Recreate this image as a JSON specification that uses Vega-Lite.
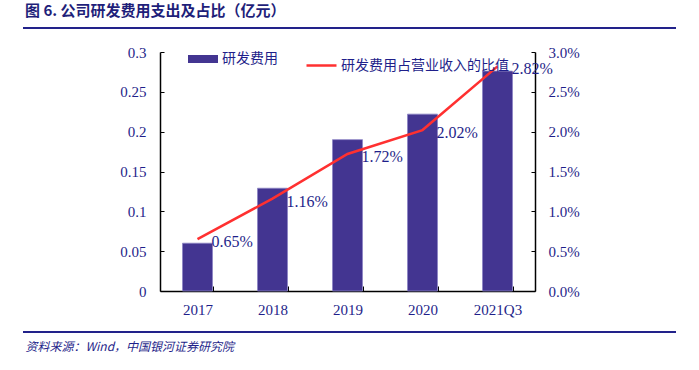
{
  "$schema": "https://vega.github.io/schema/vega-lite/v6.json",
  "width": 375,
  "height": 239,
  "autosize": {"type": "none"},
  "padding": {"left": 160, "top": 52, "right": 164, "bottom": 79},
  "background": "white",
  "config": {"view": {"stroke": null}, "font": "Liberation Serif"},
  "title": {
    "text": "图 6. 公司研发费用支出及占比（亿元）",
    "anchor": "start",
    "frame": "group",
    "font": "Noto Sans CJK SC",
    "fontSize": 15,
    "fontWeight": "bold",
    "color": "#1f1f7a",
    "dx": -135,
    "offset": 8
  },
  "data": {
    "values": [
      {"year": "2017", "rd": 0.060, "ratio": 0.0065},
      {"year": "2018", "rd": 0.129, "ratio": 0.0116},
      {"year": "2019", "rd": 0.190, "ratio": 0.0172},
      {"year": "2020", "rd": 0.222, "ratio": 0.0202},
      {"year": "2021Q3", "rd": 0.276, "ratio": 0.0282}
    ]
  },
  "layer": [
    {
      "mark": {"type": "bar", "stroke": "#8c84c4", "strokeWidth": 0.8},
      "encoding": {
        "x": {
          "field": "year", "type": "nominal", "sort": null,
          "scale": {"paddingInner": 0.6, "paddingOuter": 0.3},
          "axis": {
            "title": "资料来源：Wind，中国银河证券研究院",
            "titleFont": "Noto Sans CJK SC",
            "titleFontStyle": "italic",
            "titleFontWeight": "normal",
            "titleFontSize": 12,
            "titleColor": "#1f1f8a",
            "titleAnchor": "start",
            "titleAlign": "left",
            "titleBaseline": "middle",
            "titleX": -135,
            "titleY": 55,
            "labelAngle": 0,
            "labelFont": "Liberation Serif",
            "labelFontSize": 15,
            "labelColor": "#1f1f8a",
            "labelPadding": 16,
            "tickBand": "extent",
            "tickSize": -5,
            "tickColor": "#000000",
            "domainColor": "#000000",
            "domainWidth": 1.5,
            "grid": false
          }
        },
        "y": {
          "field": "rd", "type": "quantitative",
          "scale": {"domain": [0, 0.3], "nice": false},
          "axis": {
            "title": null,
            "values": [0, 0.05, 0.1, 0.15, 0.2, 0.25, 0.3],
            "format": "~g",
            "labelFont": "Liberation Serif",
            "labelFontSize": 15,
            "labelColor": "#1f1f8a",
            "labelPadding": 18,
            "tickSize": -4,
            "tickColor": "#000000",
            "domainColor": "#000000",
            "domainWidth": 1.5,
            "grid": false
          }
        },
        "fill": {
          "datum": "研发费用",
          "scale": {"range": ["#433591"]},
          "legend": {
            "orient": "none",
            "legendX": 33,
            "legendY": -3,
            "title": null,
            "symbolType": "M-1.5,-0.4H1.5V0.4H-1.5Z",
            "symbolSize": 400,
            "symbolStrokeWidth": 0,
            "labelOffset": 9,
            "labelLimit": 0,
            "labelFont": "Noto Sans CJK SC",
            "labelFontSize": 14,
            "labelColor": "#1f1f8a"
          }
        }
      }
    },
    {
      "layer": [
        {
          "mark": {"type": "line", "strokeWidth": 2.5},
          "encoding": {
            "x": {"field": "year", "type": "nominal", "sort": null},
            "y": {
              "field": "ratio", "type": "quantitative",
              "scale": {"domain": [0, 0.03], "nice": false},
              "axis": {
                "orient": "right",
                "title": null,
                "values": [0, 0.005, 0.01, 0.015, 0.02, 0.025, 0.03],
                "format": ".1%",
                "labelOverlap": false,
                "labelFont": "Liberation Serif",
                "labelFontSize": 15,
                "labelColor": "#1f1f8a",
                "labelPadding": 17,
                "tickSize": -4,
                "tickColor": "#000000",
                "domainColor": "#000000",
                "domainWidth": 1.5,
                "grid": false
              }
            },
            "stroke": {
              "datum": "研发费用占营业收入的比值",
              "scale": {"range": ["#ff3030"]},
              "legend": {
                "orient": "none",
                "legendX": 145,
                "legendY": -3,
                "title": null,
                "symbolType": "stroke",
                "symbolSize": 900,
                "symbolStrokeWidth": 2.5,
                "labelOffset": 3,
                "labelLimit": 0,
                "labelFont": "Noto Sans CJK SC",
                "labelFontSize": 14,
                "labelColor": "#1f1f8a"
              }
            }
          }
        },
        {
          "mark": {"type": "text", "align": "left", "baseline": "middle", "dx": 14, "dy": 3, "font": "Liberation Serif", "fontSize": 16, "color": "#1f1f8a"},
          "encoding": {
            "x": {"field": "year", "type": "nominal", "sort": null},
            "y": {
              "field": "ratio", "type": "quantitative",
              "axis": {
                "orient": "right",
                "title": null,
                "values": [0, 0.005, 0.01, 0.015, 0.02, 0.025, 0.03],
                "format": ".1%",
                "labelOverlap": false,
                "labelFont": "Liberation Serif",
                "labelFontSize": 15,
                "labelColor": "#1f1f8a",
                "labelPadding": 17,
                "tickSize": -4,
                "tickColor": "#000000",
                "domainColor": "#000000",
                "domainWidth": 1.5,
                "grid": false
              }
            },
            "text": {"field": "ratio", "type": "quantitative", "format": ".2%"}
          }
        }
      ]
    },
    {
      "mark": {"type": "rule", "color": "#22228a", "strokeWidth": 2},
      "encoding": {"x": {"value": -137}, "x2": {"value": 516}, "y": {"value": -24}}
    },
    {
      "mark": {"type": "rule", "color": "#22228a", "strokeWidth": 2},
      "encoding": {"x": {"value": -137}, "x2": {"value": 516}, "y": {"value": 280}}
    }
  ],
  "resolve": {"scale": {"y": "independent", "fill": "independent", "stroke": "independent"}}
}
